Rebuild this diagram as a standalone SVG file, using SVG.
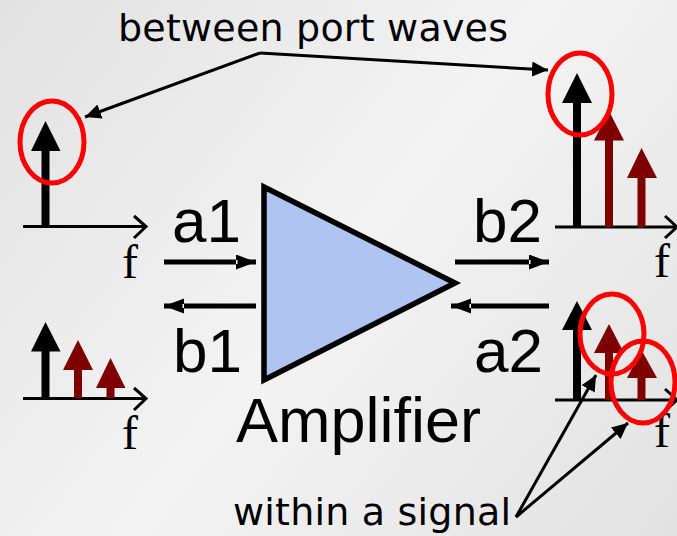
<svg xmlns="http://www.w3.org/2000/svg" width="677" height="536" viewBox="0 0 677 536">
<style>
.s{font-family:"Liberation Sans",Arial,sans-serif;fill:#000}
.port{font-size:62px}
.note{font-family:"DejaVu Sans","Noto Sans",sans-serif;font-size:38px;fill:#000}
.f{font-family:"Liberation Serif","Times New Roman",serif;font-size:48px;fill:#000}
.axis{fill:none;stroke:#000;stroke-width:3}
.bk{stroke:#000;stroke-width:8;fill:none}
.rd{stroke:#7f0000;stroke-width:8;fill:none}
.hb{fill:#000}
.hr{fill:#7f0000}
.ring{fill:none;stroke:#f00;stroke-width:5}
.lead{fill:none;stroke:#000;stroke-width:3}
.flow{fill:none;stroke:#000;stroke-width:5}
</style>
<defs>
<linearGradient id="bg" gradientUnits="userSpaceOnUse" x1="0" y1="0" x2="677" y2="536">
<stop offset="0" stop-color="#e2e2e2"/><stop offset="0.5" stop-color="#f3f3f3"/><stop offset="1" stop-color="#e2e2e2"/>
</linearGradient>
<marker id="tip" markerUnits="userSpaceOnUse" markerWidth="18" markerHeight="16" refX="16" refY="7.5" orient="auto"><path d="M0 0L16 7.5L0 15Z" fill="#000"/></marker>
<marker id="flowtip" markerUnits="userSpaceOnUse" markerWidth="22" markerHeight="16" refX="20" refY="7.5" orient="auto"><path d="M0 0L20 7.5L0 15Z" fill="#000"/><path d="M0 5.500H1.500V9.500H0Z" fill="#fff"/></marker>
</defs>
<rect width="677" height="536" fill="url(#bg)"/>
<g id="amplifier"><path d="M264 187L455 283L264 380Z" fill="#b0c4f2" stroke="#000" stroke-width="5.5" stroke-linejoin="miter"/><text class="s" x="236" y="442" font-size="63">Amplifier</text></g>
<g id="labels">
<text class="note" x="118" y="41" textLength="390" lengthAdjust="spacing">between port waves</text>
<text class="note" x="233" y="525" textLength="278" lengthAdjust="spacing">within a signal</text>
<text class="s port" x="172" y="242">a1</text>
<text class="s port" x="473" y="242">b2</text>
<text class="s port" x="173" y="372">b1</text>
<text class="s port" x="474" y="372">a2</text>
</g>
<g id="spectrum-a1">
<path class="axis" d="M23 226.500H146M134 216L146 226.500L134 238"/>
<path class="bk" d="M45.500 226V150"/><path class="hb" d="M31 151H60.500L45.500 121Z"/>
<text class="f" x="122" y="278">f</text>
</g>
<g id="spectrum-b1">
<path class="axis" d="M23 398.500H146M134 388L146 398.500L134 410"/>
<path class="bk" d="M45.500 398V350"/><path class="hb" d="M31 351.500H60.500L45.500 322Z"/>
<path class="rd" d="M78 398V368"/><path class="hr" d="M63 370H93L78 340Z"/>
<path class="rd" d="M110.500 398V387"/><path class="hr" d="M96 388H125.500L110.500 358Z"/>
<text class="f" x="122" y="449">f</text>
</g>
<g id="spectrum-b2">
<path class="axis" d="M555 227H677M665 216L677 227L665 238"/>
<path class="bk" d="M577 227V102"/><path class="hb" d="M562 103H592L577 73Z"/>
<path class="rd" d="M609 227V140"/><path class="hr" d="M594 140.500H624L609 111Z"/>
<path class="rd" d="M641.500 227V177"/><path class="hr" d="M627 178H657L641.500 148Z"/>
<text class="f" x="654" y="277">f</text>
</g>
<g id="spectrum-a2">
<path class="axis" d="M555 400H677M665 389L677 400L665 411"/>
<path class="bk" d="M577 400V329"/><path class="hb" d="M562 330H592L577 301Z"/>
<path class="rd" d="M609 400V352"/><path class="hr" d="M594 353H624L609 324Z"/>
<path class="rd" d="M641.500 400V377"/><path class="hr" d="M627 378H657L641.500 350Z"/>
<text class="f" x="654" y="447">f</text>
</g>
<g id="rings">
<ellipse class="ring" cx="52" cy="142" rx="32" ry="41"/>
<ellipse class="ring" cx="580" cy="94" rx="32" ry="41"/>
<ellipse class="ring" cx="612" cy="334" rx="32" ry="40"/>
<ellipse class="ring" cx="643" cy="382" rx="32" ry="41"/>
</g>
<g id="connectors">
<path class="flow" d="M164 262H256" marker-end="url(#flowtip)"/>
<path class="flow" d="M455 262H549" marker-end="url(#flowtip)"/>
<path class="flow" d="M256 306H164" marker-end="url(#flowtip)"/>
<path class="flow" d="M549 306H451" marker-end="url(#flowtip)"/>
<path class="lead" d="M260 53L85 117" marker-end="url(#tip)"/>
<path class="lead" d="M260 53L548 70" marker-end="url(#tip)"/>
<path class="lead" d="M516 517L596 375" marker-end="url(#tip)"/>
<path class="lead" d="M516 517L628 423" marker-end="url(#tip)"/>
</g>
</svg>
